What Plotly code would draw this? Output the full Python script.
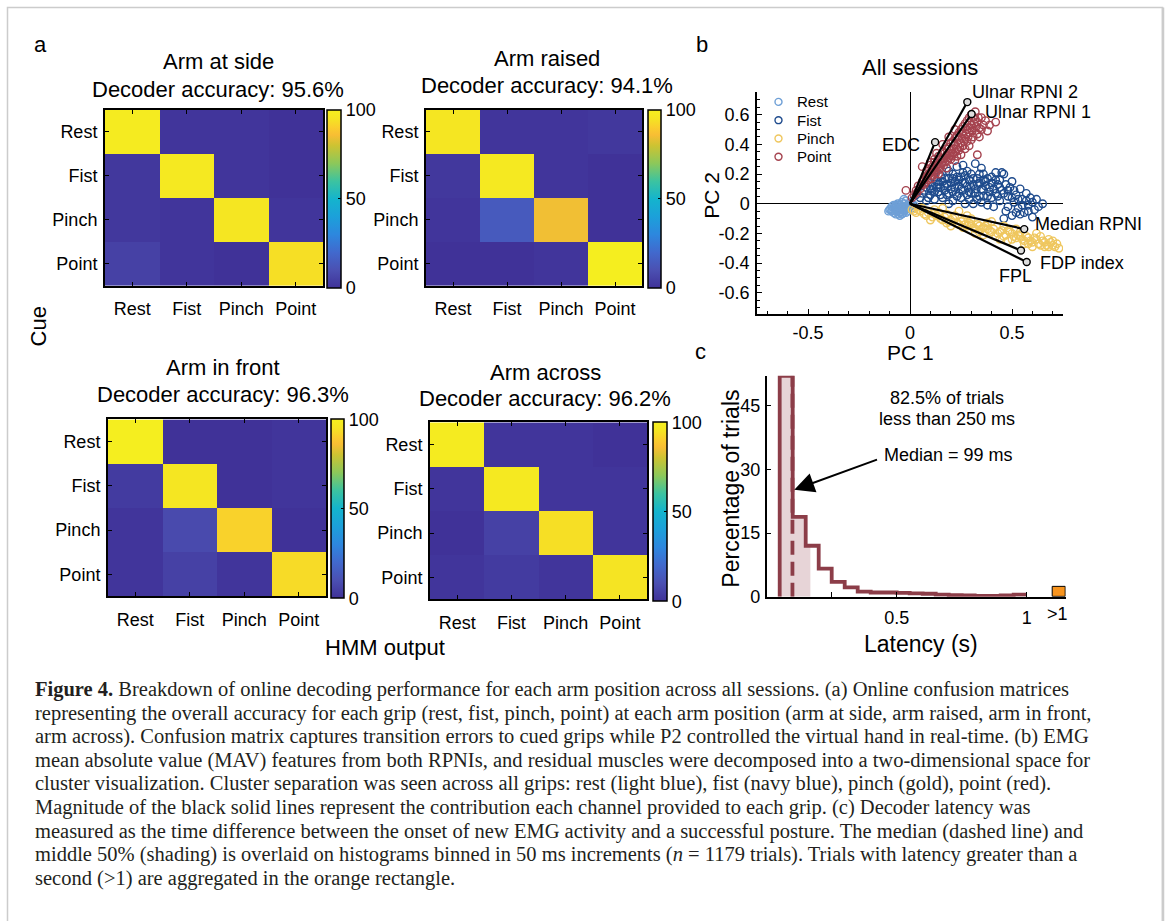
import math
import plotly.graph_objects as go

W, H = 1170, 921
SANS = "Liberation Sans, Arial, sans-serif"
SERIF = "Liberation Serif, Times New Roman, serif"

# ---------------- data ----------------
grips = ["Rest", "Fist", "Pinch", "Point"]
positions = ["Arm at side", "Arm raised", "Arm in front", "Arm across"]
accuracies = [95.6, 94.1, 96.3, 96.2]

# confusion matrices, % of cued trials (rows = cue, cols = HMM output)
cm_side = [[98, 1, 1, 0], [2, 97, 1, 0], [2, 1, 96, 1], [5, 1, 0, 94]]
cm_raised = [[96, 1, 1, 2], [2, 97, 1, 0], [1, 14, 85, 0], [0, 0, 1, 99]]
cm_front = [[99, 0, 0, 1], [3, 96, 0, 1], [1, 8, 91, 0], [1, 5, 1, 93]]
cm_across = [[98, 1, 1, 0], [1, 97, 1, 1], [0, 5, 94, 1], [1, 3, 1, 95]]

# PCA scores (PC1, PC2) of MAV features, per grip
rest_scores = [
    (-0.10, -0.04), (-0.09, -0.02), (-0.09, -0.05), (-0.08, -0.03), (-0.08, -0.06),
    (-0.07, -0.01), (-0.07, -0.04), (-0.07, -0.07), (-0.06, -0.02), (-0.06, -0.05),
    (-0.06, 0.00), (-0.05, -0.03), (-0.05, -0.06), (-0.05, -0.01), (-0.04, -0.04),
    (-0.04, -0.02), (-0.04, -0.07), (-0.04, 0.01), (-0.03, -0.03), (-0.03, -0.05),
    (-0.03, 0.00), (-0.02, -0.02), (-0.02, -0.06), (-0.02, -0.04), (-0.02, 0.02),
    (-0.01, -0.03), (-0.01, -0.01), (-0.01, -0.05), (0.00, -0.02), (0.00, 0.01),
    (0.01, -0.03), (0.01, 0.00), (-0.05, -0.08), (-0.08, -0.01), (-0.03, 0.03),
    (0.02, -0.01), (-0.095, -0.035), (-0.065, -0.055), (-0.035, -0.065), (-0.015, -0.035),
    (-0.085, -0.045), (-0.075, -0.025), (-0.055, -0.045), (-0.045, -0.025), (-0.025, -0.045),
    (-0.045, -0.055), (-0.015, -0.015), (-0.065, -0.015), (-0.035, -0.015), (0.005, -0.005),
    (-0.055, -0.070), (-0.105, -0.050),
]
fist_scores = [
    (0.05, 0.04), (0.07, 0.09), (0.08, 0.02), (0.10, 0.06), (0.11, 0.12),
    (0.12, 0.03), (0.13, 0.15), (0.14, 0.08), (0.15, 0.11), (0.16, 0.04),
    (0.17, 0.17), (0.18, 0.13), (0.19, 0.07), (0.20, 0.10), (0.21, 0.20),
    (0.22, 0.15), (0.23, 0.05), (0.24, 0.12), (0.25, 0.18), (0.26, 0.09),
    (0.27, 0.14), (0.28, 0.22), (0.29, 0.03), (0.30, 0.11), (0.31, 0.17),
    (0.32, 0.07), (0.33, 0.13), (0.34, 0.20), (0.35, 0.01), (0.36, 0.09),
    (0.37, 0.15), (0.38, 0.05), (0.39, 0.11), (0.40, 0.18), (0.41, -0.02),
    (0.42, 0.07), (0.43, 0.13), (0.44, 0.02), (0.45, 0.09), (0.46, 0.20),
    (0.47, -0.05), (0.48, 0.05), (0.49, 0.11), (0.50, -0.08), (0.51, 0.01),
    (0.52, 0.06), (0.53, -0.03), (0.55, 0.03), (0.56, -0.06), (0.58, -0.01),
    (0.59, 0.04), (0.61, -0.04), (0.62, 0.03), (0.65, 0.00), (0.60, -0.09),
    (0.18, 0.24), (0.23, 0.25), (0.32, 0.27), (0.27, 0.00), (0.15, 0.19),
    (0.09, 0.14), (0.03, 0.06), (0.21, 0.02), (0.35, 0.24), (0.44, 0.16),
    (0.38, -0.01), (0.50, 0.15), (0.46, -0.10), (0.54, 0.10), (0.26, 0.21),
    (0.12, 0.18), (0.19, 0.00), (0.31, 0.00), (0.40, 0.04), (0.29, 0.08),
    (0.34, 0.05), (0.24, 0.07), (0.17, 0.09), (0.36, 0.16), (0.42, 0.21),
    (0.45, 0.21), (0.26, 0.26), (0.57, 0.07), (0.52, -0.06), (0.48, -0.02),
    (0.06, 0.07), (0.09, 0.04), (0.10, 0.10), (0.12, 0.08), (0.13, 0.11),
    (0.14, 0.13), (0.15, 0.06), (0.16, 0.15), (0.17, 0.12), (0.18, 0.06),
    (0.19, 0.17), (0.20, 0.14), (0.21, 0.08), (0.22, 0.11), (0.23, 0.18),
    (0.24, 0.16), (0.25, 0.04), (0.25, 0.10), (0.26, 0.14), (0.27, 0.19),
    (0.28, 0.06), (0.28, 0.12), (0.29, 0.16), (0.30, 0.20), (0.30, 0.07),
    (0.31, 0.13), (0.32, 0.10), (0.33, 0.17), (0.33, 0.03), (0.34, 0.14),
    (0.35, 0.10), (0.36, 0.05), (0.36, 0.20), (0.37, 0.12), (0.38, 0.17),
    (0.39, 0.08), (0.40, 0.14), (0.41, 0.10), (0.42, 0.16), (0.43, 0.05),
    (0.44, 0.11), (0.46, 0.07), (0.47, 0.13), (0.48, 0.09), (0.50, 0.04),
    (0.51, 0.09), (0.53, 0.03), (0.55, -0.01), (0.57, 0.02), (0.60, 0.01),
    (0.63, -0.02), (0.58, -0.05), (0.54, -0.07), (0.21, 0.17), (0.19, 0.22),
    (0.15, 0.15), (0.11, 0.09), (0.08, 0.11),
]
pinch_scores = [
    (0.01, -0.04), (0.03, -0.06), (0.05, -0.05), (0.07, -0.07), (0.09, -0.06),
    (0.11, -0.09), (0.13, -0.08), (0.15, -0.10), (0.17, -0.09), (0.19, -0.12),
    (0.21, -0.10), (0.23, -0.13), (0.25, -0.12), (0.27, -0.14), (0.29, -0.13),
    (0.31, -0.16), (0.33, -0.14), (0.35, -0.17), (0.37, -0.15), (0.39, -0.18),
    (0.41, -0.17), (0.43, -0.20), (0.45, -0.18), (0.47, -0.21), (0.49, -0.19),
    (0.51, -0.22), (0.53, -0.21), (0.55, -0.24), (0.57, -0.22), (0.59, -0.25),
    (0.61, -0.23), (0.63, -0.27), (0.65, -0.25), (0.67, -0.28), (0.69, -0.26),
    (0.71, -0.29), (0.73, -0.30), (0.70, -0.25), (0.66, -0.29), (0.62, -0.20),
    (0.58, -0.27), (0.54, -0.19), (0.50, -0.24), (0.46, -0.15), (0.42, -0.22),
    (0.38, -0.13), (0.34, -0.19), (0.30, -0.10), (0.26, -0.16), (0.22, -0.08),
    (0.18, -0.13), (0.14, -0.06), (0.10, -0.11), (0.06, -0.03), (0.24, -0.05),
    (0.12, -0.04), (0.36, -0.21), (0.44, -0.24), (0.52, -0.17), (0.60, -0.29),
    (0.48, -0.25), (0.40, -0.12), (0.32, -0.20), (0.20, -0.15), (0.16, -0.03),
    (0.28, -0.08), (0.56, -0.27), (0.64, -0.22),
    (0.02, -0.05), (0.04, -0.04), (0.08, -0.08), (0.12, -0.07), (0.16, -0.11),
    (0.20, -0.11), (0.24, -0.14), (0.28, -0.15), (0.30, -0.14), (0.32, -0.17),
    (0.36, -0.16), (0.40, -0.19), (0.44, -0.19), (0.46, -0.22), (0.50, -0.20),
    (0.52, -0.23), (0.54, -0.22), (0.56, -0.25), (0.58, -0.23), (0.60, -0.26),
    (0.62, -0.24), (0.64, -0.28), (0.66, -0.26), (0.68, -0.29), (0.70, -0.28),
    (0.72, -0.27), (0.68, -0.24), (0.48, -0.18), (0.38, -0.17), (0.34, -0.15),
    (0.26, -0.11), (0.18, -0.07),
]
point_scores = [
    (0.02, 0.06), (0.03, 0.09), (0.04, 0.12), (0.05, 0.10), (0.06, 0.15),
    (0.07, 0.13), (0.08, 0.18), (0.09, 0.16), (0.10, 0.21), (0.11, 0.19),
    (0.12, 0.24), (0.13, 0.22), (0.14, 0.27), (0.15, 0.25), (0.16, 0.30),
    (0.17, 0.28), (0.18, 0.33), (0.19, 0.31), (0.20, 0.36), (0.21, 0.34),
    (0.22, 0.40), (0.23, 0.37), (0.24, 0.43), (0.25, 0.41), (0.26, 0.47),
    (0.27, 0.44), (0.28, 0.50), (0.29, 0.48), (0.30, 0.53), (0.31, 0.51),
    (0.32, 0.57), (0.33, 0.55), (0.32, 0.62), (0.29, 0.58), (0.27, 0.54),
    (0.25, 0.50), (0.23, 0.46), (0.21, 0.42), (0.19, 0.38), (0.17, 0.34),
    (0.15, 0.30), (0.13, 0.26), (0.11, 0.23), (0.09, 0.20), (0.07, 0.16),
    (0.20, 0.30), (0.24, 0.36), (0.28, 0.42), (0.33, 0.47), (0.36, 0.53),
    (0.42, 0.55), (0.38, 0.49), (0.33, 0.33), (0.26, 0.39), (0.22, 0.29),
    (0.31, 0.45), (0.35, 0.58), (0.30, 0.60), (0.06, 0.25), (0.08, 0.22),
    (-0.02, 0.09), (0.01, 0.04), (0.10, 0.26), (0.18, 0.24), (0.14, 0.20),
    (0.10, 0.28), (0.13, 0.34), (0.16, 0.40), (0.19, 0.45), (0.22, 0.50),
    (0.12, 0.30), (0.34, 0.51), (0.29, 0.39), (0.37, 0.56), (0.25, 0.33),
    (0.035, 0.075), (0.055, 0.125), (0.075, 0.145), (0.085, 0.19), (0.105, 0.17),
    (0.115, 0.215), (0.125, 0.20), (0.135, 0.245), (0.145, 0.23), (0.155, 0.275),
    (0.165, 0.26), (0.175, 0.31), (0.185, 0.29), (0.195, 0.34), (0.205, 0.32),
    (0.215, 0.37), (0.225, 0.35), (0.235, 0.40), (0.245, 0.38), (0.255, 0.44),
    (0.265, 0.42), (0.275, 0.47), (0.285, 0.45), (0.295, 0.51), (0.305, 0.49),
    (0.315, 0.54), (0.325, 0.52), (0.335, 0.58), (0.31, 0.58), (0.28, 0.56),
    (0.26, 0.52), (0.24, 0.48), (0.22, 0.44), (0.20, 0.41), (0.18, 0.37),
    (0.16, 0.35), (0.14, 0.32), (0.12, 0.28), (0.11, 0.25), (0.095, 0.235),
    (0.30, 0.43), (0.27, 0.37), (0.23, 0.32), (0.35, 0.50), (0.39, 0.53),
    (0.34, 0.45),
]

# channel loadings (PC1, PC2)
channels = ["Ulnar RPNI 2", "Ulnar RPNI 1", "EDC", "Median RPNI", "FDP index", "FPL"]
loading_pc1 = [0.281, 0.302, 0.123, 0.560, 0.572, 0.544]
loading_pc2 = [0.685, 0.605, 0.415, -0.171, -0.393, -0.315]

# decoder latency histogram (50 ms bins starting at 50 ms), % of trials
bin_start = 0.05
bin_width = 0.05
hist_pct = [52.0, 18.8, 12.0, 6.6, 3.5, 2.2, 1.2, 1.0, 1.0, 0.9, 0.8, 0.7,
            0.5, 0.4, 0.3, 0.2, 0.2, 0.3, 0.5]
median_latency = 0.099
latency_q1 = 0.052
latency_q3 = 0.168
over_1s_pct = 2.3

caption_lines = [
    "<b>Figure 4.</b> Breakdown of online decoding performance for each arm position across all sessions. (a) Online confusion matrices",
    "representing the overall accuracy for each grip (rest, fist, pinch, point) at each arm position (arm at side, arm raised, arm in front,",
    "arm across). Confusion matrix captures transition errors to cued grips while P2 controlled the virtual hand in real-time. (b) EMG",
    "mean absolute value (MAV) features from both RPNIs, and residual muscles were decomposed into a two-dimensional space for",
    "cluster visualization. Cluster separation was seen across all grips: rest (light blue), fist (navy blue), pinch (gold), point (red).",
    "Magnitude of the black solid lines represent the contribution each channel provided to each grip. (c) Decoder latency was",
    "measured as the time difference between the onset of new EMG activity and a successful posture. The median (dashed line) and",
    "middle 50% (shading) is overlaid on histograms binned in 50 ms increments (<i>n</i> = 1179 trials). Trials with latency greater than a",
    "second (&gt;1) are aggregated in the orange rectangle.",
]

# ---------------- helpers (pixel -> paper) ----------------
def fx(p):
    return p / W


def fy(p):
    return 1 - p / H


parula = [
    [0.00, "rgb(64,50,152)"], [0.10, "rgb(75,80,178)"], [0.20, "rgb(65,105,205)"],
    [0.30, "rgb(45,135,222)"], [0.40, "rgb(28,160,218)"], [0.50, "rgb(20,180,205)"],
    [0.60, "rgb(60,195,160)"], [0.70, "rgb(140,200,90)"], [0.80, "rgb(205,195,50)"],
    [0.86, "rgb(248,190,52)"], [0.90, "rgb(250,205,45)"], [0.95, "rgb(245,228,35)"],
    [1.00, "rgb(245,240,30)"],
]

fig = go.Figure()
layout = dict(
    width=W, height=H, autosize=False,
    margin=dict(l=0, r=0, t=0, b=0),
    paper_bgcolor="white", plot_bgcolor="white",
    font=dict(family=SANS, color="black"),
    showlegend=False,
)
annotations = []
shapes = []

# ---------------- (a) confusion matrices ----------------
hm_boxes = [  # plot l, r, t, b ; colorbar l, r ; title y1, y2 ; title center x
    (105, 323, 111, 289, 327, 341, 62, 90, 218),
    (426, 642, 111, 289, 648, 661, 59, 86, 547),
    (108, 326, 424, 603, 331, 344, 372, 399, 223),
    (430, 647, 427, 606, 653, 667, 377, 403, 545),
]
matrices = [cm_side, cm_raised, cm_front, cm_across]

for i, (cm, box, pos, acc) in enumerate(zip(matrices, hm_boxes, positions, accuracies)):
    l, r, t, b, cl, cr, ty1, ty2, tx = box
    n = "" if i == 0 else str(i + 1)
    fig.add_trace(go.Heatmap(
        z=cm, x=grips, y=grips, zmin=0, zmax=100, colorscale=parula,
        xaxis="x" + n, yaxis="y" + n, xgap=0, ygap=0,
        colorbar=dict(
            x=fx(cl), xanchor="left", xref="paper", y=fy(t), yanchor="top", yref="paper",
            len=b - t, lenmode="pixels", thickness=cr - cl, thicknessmode="pixels",
            xpad=0, ypad=0, outlinewidth=1.5, outlinecolor="black",
            tickvals=[0, 50, 100], ticks="inside", ticklen=3, tickcolor="black",
            tickfont=dict(size=18, family=SANS),
        ),
    ))
    axcommon = dict(
        showline=True, linecolor="black", linewidth=2, mirror="ticks",
        ticks="inside", ticklen=4, tickcolor="black", tickwidth=1,
        showgrid=False, zeroline=False, tickfont=dict(size=18),
    )
    layout["xaxis" + n] = dict(domain=[fx(l), fx(r)], anchor="y" + n,
                               ticklabelstandoff=6, **axcommon)
    layout["yaxis" + n] = dict(domain=[fy(b), fy(t)], anchor="x" + n,
                               autorange="reversed", ticklabelstandoff=2, **axcommon)
    annotations.append(dict(text=pos, x=fx(tx), y=fy(ty1), font=dict(size=22)))
    annotations.append(dict(text=f"Decoder accuracy: {acc:.1f}%", x=fx(tx), y=fy(ty2),
                            font=dict(size=22)))

annotations.append(dict(text="Cue", x=fx(38), y=fy(330), textangle=-90, font=dict(size=22)))
annotations.append(dict(text="HMM output", x=fx(385), y=fy(655), font=dict(size=22)))

# ---------------- (b) PCA biplot ----------------
grip_colors = {"Rest": "#6e9fd6", "Fist": "#1e4b8d", "Pinch": "#efc75f", "Point": "#a5434f"}
for name, pts in [("Rest", rest_scores), ("Fist", fist_scores),
                  ("Pinch", pinch_scores), ("Point", point_scores)]:
    fig.add_trace(go.Scatter(
        x=[p[0] for p in pts], y=[p[1] for p in pts], mode="markers", name=name,
        marker=dict(symbol="circle-open", size=7.5, color=grip_colors[name], line=dict(width=1.4)),
        xaxis="x5", yaxis="y5",
    ))
for lx, ly in zip(loading_pc1, loading_pc2):
    fig.add_trace(go.Scatter(x=[0, lx], y=[0, ly], mode="lines",
                             line=dict(color="black", width=2.2), xaxis="x5", yaxis="y5"))
fig.add_trace(go.Scatter(x=loading_pc1, y=loading_pc2, mode="markers",
                         marker=dict(symbol="circle", size=7, color="#dddddd",
                                     line=dict(color="black", width=1.4)),
                         xaxis="x5", yaxis="y5"))

sc_l, sc_r, sc_t, sc_b = 757, 1063, 93, 317
pc_ticks = [-0.6, -0.4, -0.2, 0, 0.2, 0.4, 0.6]
layout["xaxis5"] = dict(
    domain=[fx(sc_l), fx(sc_r)], anchor="y5", range=[-0.75, 0.75],
    showline=True, linecolor="black", linewidth=1.5, mirror=False,
    ticks="inside", ticklen=5, tickcolor="black",
    tickvals=[-0.5, 0, 0.5], ticktext=["-0.5", "0", "0.5"], tickfont=dict(size=18),
    minor=dict(ticks="inside", dtick=0.1, ticklen=3, tickcolor="black"),
    showgrid=False, zeroline=True, zerolinecolor="black", zerolinewidth=1,
    ticklabelstandoff=2,
)
layout["yaxis5"] = dict(
    domain=[fy(sc_b), fy(sc_t)], anchor="x5", range=[-0.74, 0.753],
    showline=True, linecolor="black", linewidth=1.5, mirror=False,
    ticks="inside", ticklen=5, tickcolor="black",
    tickvals=pc_ticks, ticktext=[("%g" % v) for v in pc_ticks], tickfont=dict(size=18),
    minor=dict(ticks="inside", dtick=0.05, ticklen=3, tickcolor="black"),
    showgrid=False, zeroline=True, zerolinecolor="black", zerolinewidth=1,
    ticklabelstandoff=2,
)
annotations += [
    dict(text="All sessions", x=fx(920), y=fy(68), font=dict(size=22)),
    dict(text="PC 1", x=fx(910), y=fy(356), font=dict(size=21)),
    dict(text="PC 2", x=fx(712), y=fy(197), font=dict(size=21), textangle=-90),
    dict(text="Ulnar RPNI 2", x=fx(970), y=fy(93), font=dict(size=18), xanchor="left"),
    dict(text="Ulnar RPNI 1", x=fx(983), y=fy(113), font=dict(size=18), xanchor="left"),
    dict(text="EDC", x=fx(922), y=fy(147), font=dict(size=18), xanchor="right"),
    dict(text="Median RPNI", x=fx(1033), y=fy(226), font=dict(size=18), xanchor="left"),
    dict(text="FDP index", x=fx(1038), y=fy(266), font=dict(size=18), xanchor="left"),
    dict(text="FPL", x=fx(997), y=fy(279), font=dict(size=18), xanchor="left"),
]
# legend
leg_rows = [103, 121.5, 140, 158.5]
for name, ry in zip(grips, leg_rows):
    shapes.append(dict(type="circle", xref="paper", yref="paper",
                       x0=fx(775), x1=fx(782), y0=fy(ry + 3.5), y1=fy(ry - 3.5),
                       line=dict(color=grip_colors[name], width=1.4)))
    annotations.append(dict(text=name, x=fx(795), y=fy(ry), font=dict(size=15), xanchor="left"))

# ---------------- (c) latency histogram ----------------
edges = [bin_start + k * bin_width for k in range(len(hist_pct) + 1)]


def pct_at(t):
    k = int(math.floor((t - bin_start) / bin_width + 1e-9))
    return hist_pct[k]


inner = [e for e in edges if latency_q1 < e < latency_q3]
iqr_x = [latency_q1] + inner + [latency_q3]
iqr_y = [pct_at(latency_q1)] + [pct_at(e) for e in inner] + [pct_at(latency_q3)]
fig.add_trace(go.Scatter(x=iqr_x, y=iqr_y, mode="lines", line=dict(width=0, shape="hv"),
                         fill="tozeroy", fillcolor="#e7d4d7", xaxis="x6", yaxis="y6"))

step_x = [edges[0]] + edges[:-1] + [edges[-1]]
step_y = [0] + hist_pct + [hist_pct[-1]]
hist_color = "#8c3d48"
fig.add_trace(go.Scatter(x=step_x, y=step_y, mode="lines",
                         line=dict(color=hist_color, width=3.8, shape="hv"),
                         xaxis="x6", yaxis="y6"))
fig.add_trace(go.Scatter(x=[median_latency, median_latency], y=[0, pct_at(median_latency)],
                         mode="lines", line=dict(color=hist_color, width=3.8, dash="14px,7px"),
                         xaxis="x6", yaxis="y6"))
fig.add_trace(go.Bar(x=[1.125], y=[over_1s_pct], width=[0.05],
                     marker=dict(color="#f7941e", line=dict(color="black", width=1)),
                     xaxis="x6", yaxis="y6"))

hs_l, hs_r, hs_t, hs_b = 766.7, 1065.7, 380, 603.3
layout["xaxis6"] = dict(
    domain=[fx(hs_l), fx(hs_r)], anchor="y6", range=[0, 1.15],
    showline=True, linecolor="black", linewidth=1.5,
    ticks="inside", ticklen=5, tickcolor="black",
    tickvals=[0.25, 0.5, 1.0], ticktext=["", "0.5", "1"], tickfont=dict(size=18),
    showgrid=False, zeroline=False, ticklabelstandoff=4,
)
layout["yaxis6"] = dict(
    domain=[fy(hs_b), fy(hs_t)], anchor="x6", range=[0, 52],
    showline=True, linecolor="black", linewidth=1.5,
    ticks="inside", ticklen=5, tickcolor="black",
    tickvals=[0, 15, 30, 45], tickfont=dict(size=18),
    showgrid=False, zeroline=False, ticklabelstandoff=1,
)
layout["bargap"] = 0
annotations += [
    dict(text="&gt;1", x=fx(1057), y=fy(621), font=dict(size=18)),
    dict(text="82.5% of trials", x=fx(947), y=fy(402), font=dict(size=18)),
    dict(text="less than 250 ms", x=fx(947), y=fy(424), font=dict(size=18)),
    dict(text="Median = 99 ms", x=fx(948), y=fy(460), font=dict(size=18)),
    dict(text="Percentage of trials", x=fx(731), y=fy(494), font=dict(size=23), textangle=-90),
    dict(text="Latency (s)", x=fx(921), y=fy(651), font=dict(size=23)),
]
annotations.append(dict(
    x=0.106, y=25.2, xref="x6", yref="y6", ax=0.43, ay=32.4, axref="x6", ayref="y6",
    text="", showarrow=True, arrowhead=2, arrowsize=2, arrowwidth=2, arrowcolor="black",
))

# panel letters
annotations += [
    dict(text="a", x=fx(40), y=fy(45), font=dict(size=22)),
    dict(text="b", x=fx(702), y=fy(45), font=dict(size=22)),
    dict(text="c", x=fx(700), y=fy(355), font=dict(size=22)),
]

# caption
for k, line in enumerate(caption_lines):
    annotations.append(dict(text=line, x=fx(33), y=fy(697 + 23.9 * k), xanchor="left",
                            font=dict(family=SERIF, size=20.5, color="#231f20")))

# frame around the figure
shapes.append(dict(type="rect", xref="paper", yref="paper", x0=fx(7.5), x1=fx(1162.5),
                   y0=fy(935), y1=fy(7.5), line=dict(color="#cccccc", width=1.5)))
shapes.append(dict(type="line", xref="paper", yref="paper", x0=fx(1163), x1=fx(1163),
                   y0=fy(935), y1=fy(7.5), line=dict(color="#cccccc", width=2.5)))

for a in annotations:
    a.setdefault("xref", "paper")
    a.setdefault("yref", "paper")
    a.setdefault("showarrow", False)
    a.setdefault("xanchor", "center")
    a.setdefault("yanchor", "middle")

layout["annotations"] = annotations
layout["shapes"] = shapes
fig.update_layout(**layout)

fig.write_html("out.html")
